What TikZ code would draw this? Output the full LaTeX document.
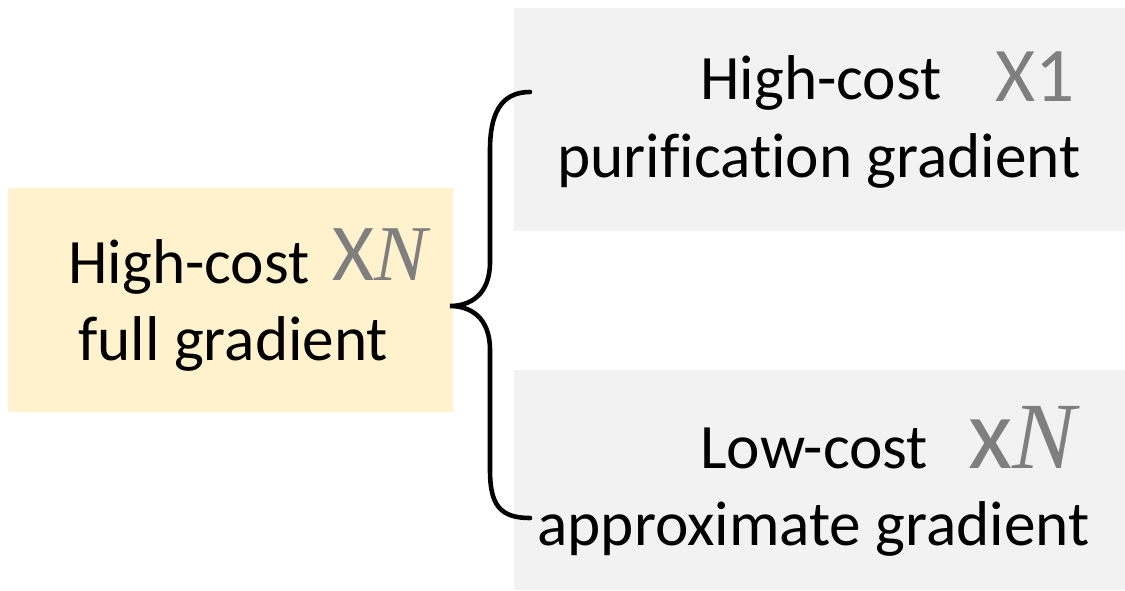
\documentclass[tikz,border=0pt]{standalone}
\usepackage{fontspec}
\setmainfont{Carlito}[Ligatures=NoCommon]
\newfontfamily\serifmath{Liberation Serif}
\usepackage{tikz}
\definecolor{fullyellow}{HTML}{FFF2CC}
\definecolor{boxgray}{HTML}{F2F2F2}
\definecolor{multgray}{HTML}{7F7F7F}
\newcommand{\multsize}[1]{\fontsize{#1}{#1}\selectfont}

\begin{document}
\begin{tikzpicture}[x=0.02cm, y=-0.02cm,
	box/.style={inner sep=0pt, anchor=north west},
	txt/.style={inner sep=0pt, anchor=base west, font=\fontsize{36}{44}\selectfont},
	mult/.style={inner sep=0pt, anchor=base west, text=multgray},
	brace/.style={line width=2.6pt, line cap=round}]
		\useasboundingbox (0,0) rectangle (1125,591);

		% boxes
		\node[box, fill=fullyellow, minimum width=8.9cm, minimum height=4.48cm] (full) at (8,188) {};
		\node[box, fill=boxgray, minimum width=12.22cm, minimum height=4.46cm] (pur) at (514,8) {};
		\node[box, fill=boxgray, minimum width=12.22cm, minimum height=4.4cm] (app) at (514,370) {};

		% texts
		\node[txt] (fullA) at (68,283) {High-cost};
		\node[mult] (fullN) at (332,280) {\multsize{46}X\serifmath\multsize{45}\itshape N};
		\node[txt] (fullB) at (78,360) {full gradient};

		\node[txt] (purA) at (700,100) {High-cost};
		\node[mult] (purN) at (995,102) {\multsize{44}X1};
		\node[txt] (purB) at (557,178) {purification gradient};

		\node[txt] (appA) at (700,468) {Low-cost};
		\node[mult] (appN) at (968,468) {\multsize{58}x\serifmath\multsize{54}\itshape N};
		\node[txt] (appB) at (537,545) {approximate gradient};

		% brace
		\coordinate (brtop) at (530,92);
		\coordinate (brtip) at (450,306);
		\coordinate (brbot) at (530,518);
		\draw[brace] (brtop) .. controls +(-30,0) and +(0,-35) .. (490,150) -- (490,262)
			.. controls +(0,33) and +(20,0) .. (brtip)
			.. controls +(20,0) and +(0,-33) .. (490,350) -- (490,470)
			.. controls +(0,35) and +(-30,0) .. (brbot);
	\end{tikzpicture}
\end{document}
